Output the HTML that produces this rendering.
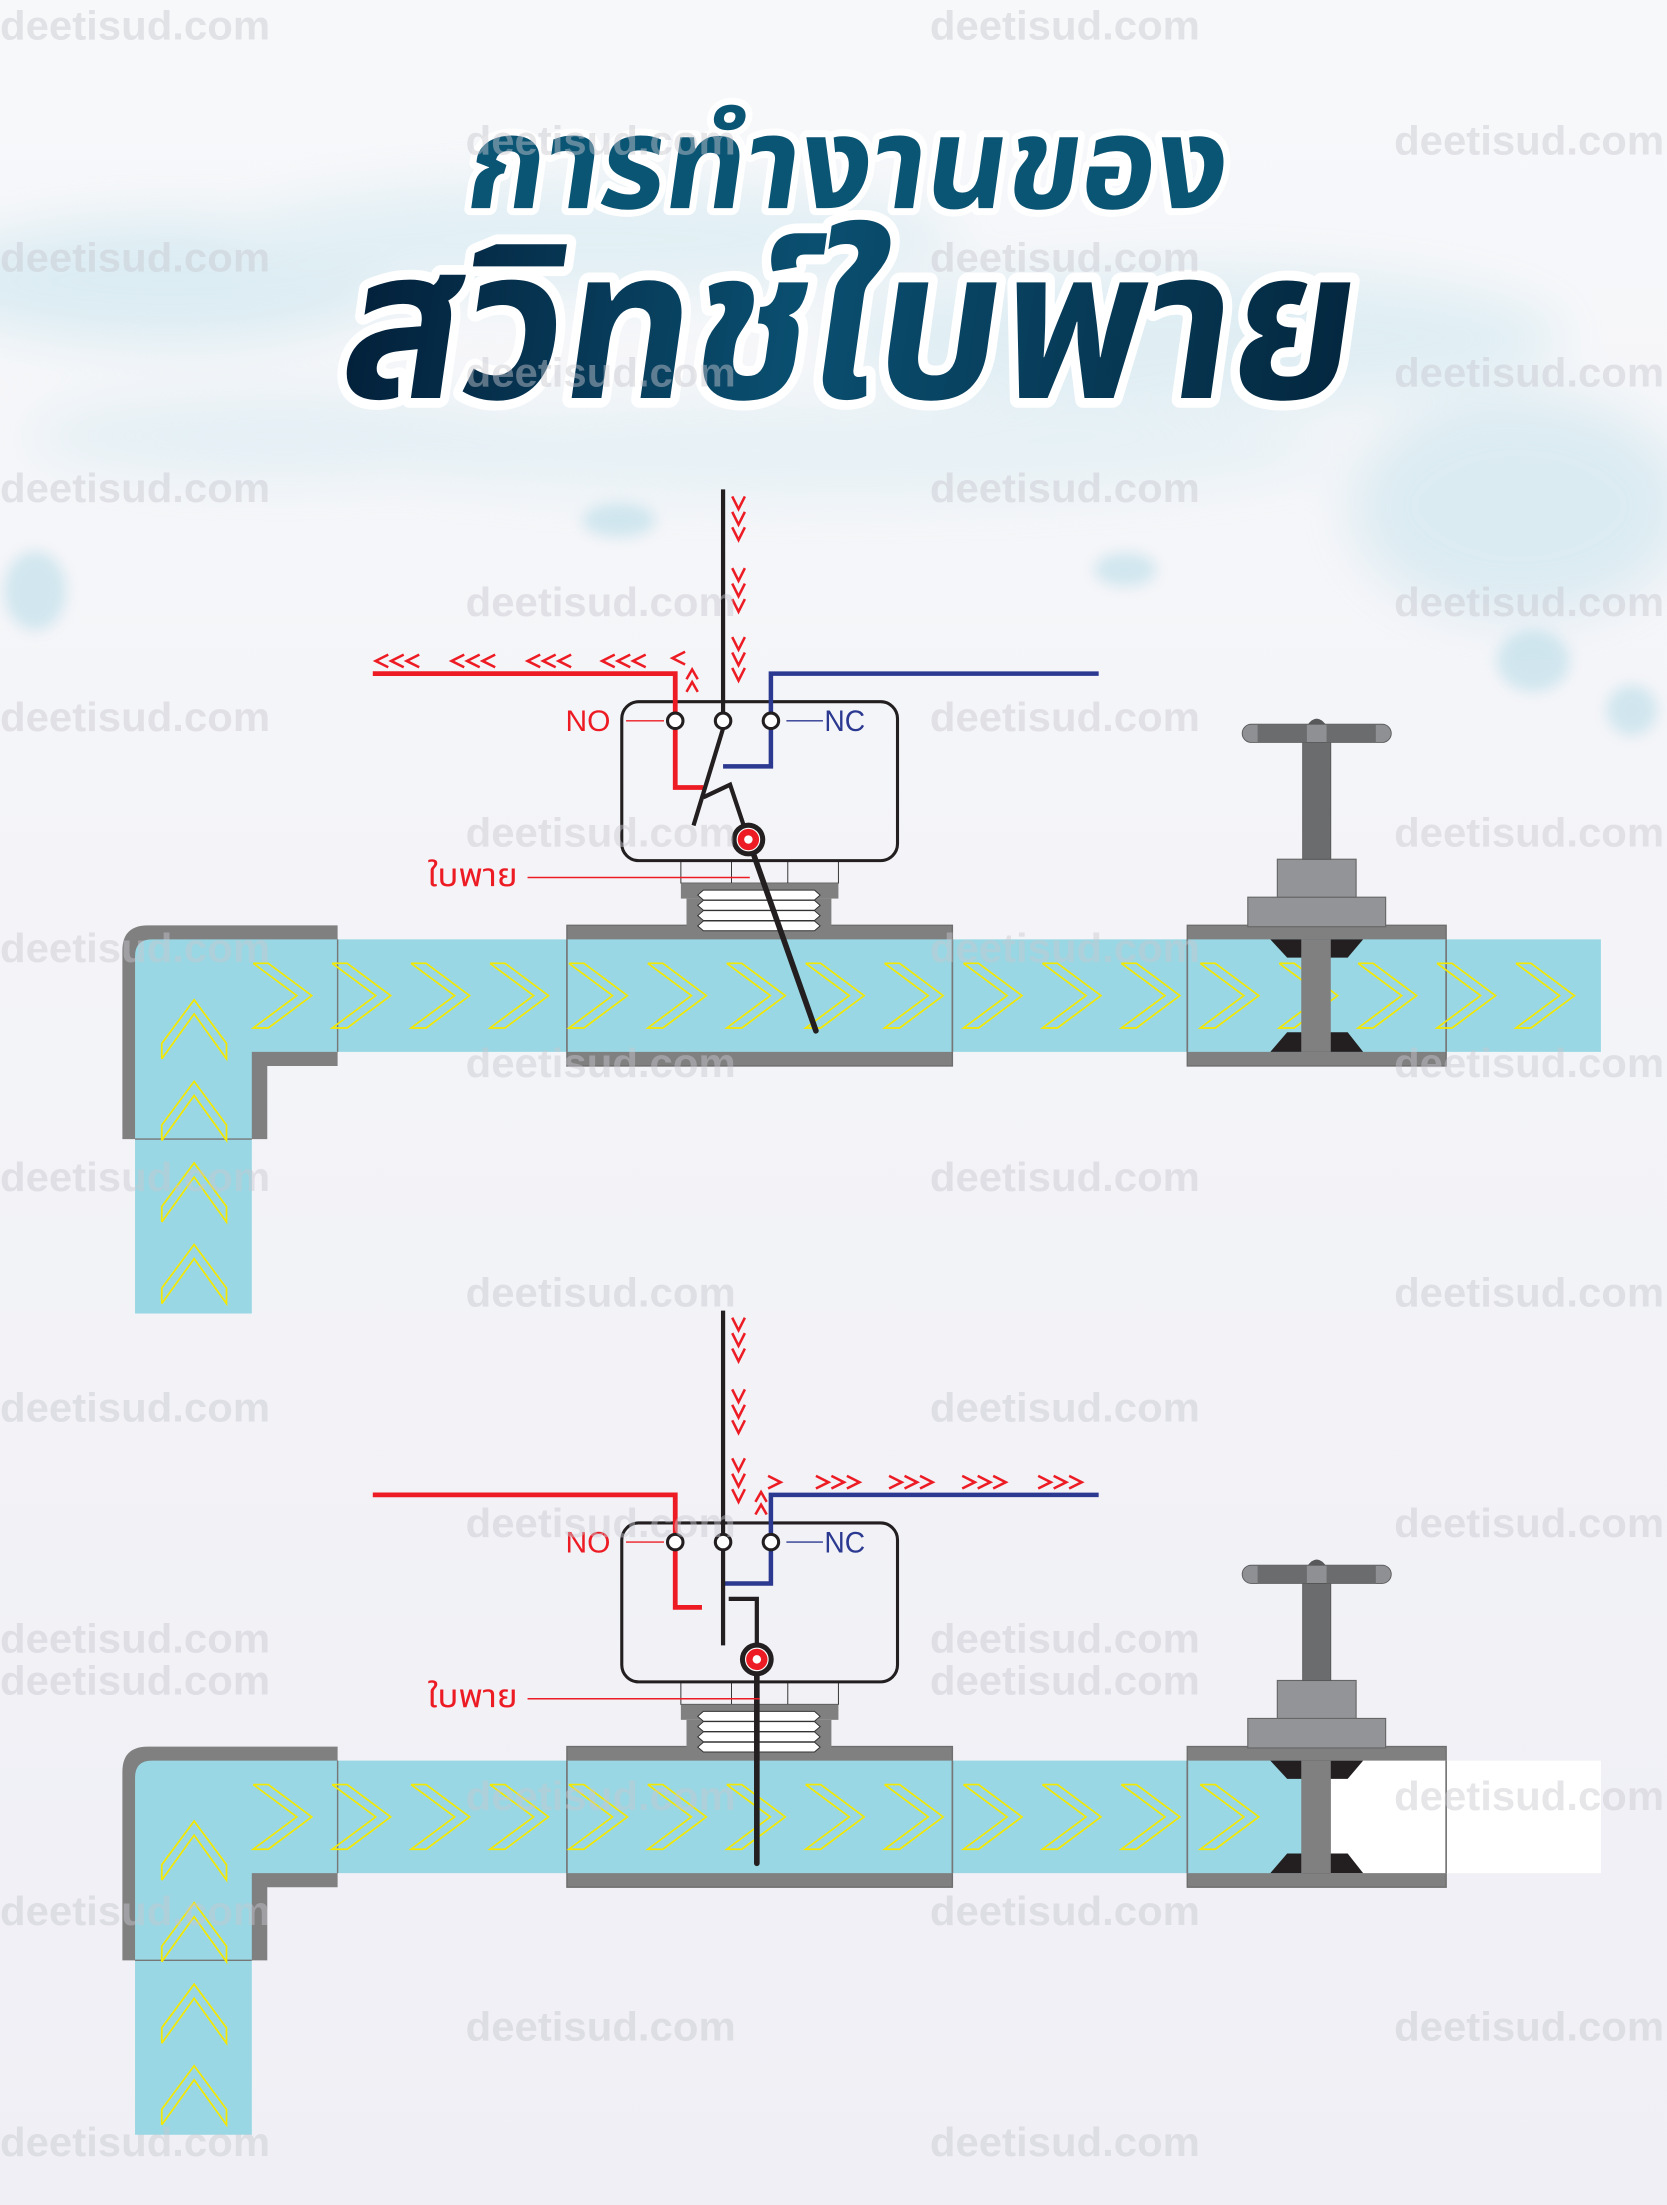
<!DOCTYPE html>
<html><head><meta charset="utf-8">
<style>
html,body{margin:0;padding:0;background:#f4f4f8;}
svg{display:block;}
</style></head>
<body>
<svg id="s" width="1667" height="2205" viewBox="0 0 1185 1568" preserveAspectRatio="none" xmlns="http://www.w3.org/2000/svg">
<defs>
<linearGradient id="bg" x1="0" y1="0" x2="0" y2="1">
<stop offset="0" stop-color="#f7f8fa"/><stop offset="1" stop-color="#efeff5"/>
</linearGradient>
<linearGradient id="t2" x1="0" y1="0" x2="1" y2="0">
<stop offset="0" stop-color="#03203a"/><stop offset="0.45" stop-color="#0a4f70"/><stop offset="1" stop-color="#04273f"/>
</linearGradient>
<filter id="blur" x="-50%" y="-50%" width="200%" height="200%"><feGaussianBlur stdDeviation="18"/></filter>
<filter id="blur2" x="-50%" y="-50%" width="200%" height="200%"><feGaussianBlur stdDeviation="5"/></filter>
</defs>
<rect width="1185" height="1568" fill="url(#bg)"/>
<g filter="url(#blur)" opacity="0.4">
<ellipse cx="120" cy="200" rx="170" ry="45" fill="#b5dde9"/>
<ellipse cx="420" cy="170" rx="260" ry="40" fill="#c4e4ee"/>
<ellipse cx="850" cy="240" rx="260" ry="50" fill="#c0e2ec"/>
<ellipse cx="1080" cy="360" rx="120" ry="80" fill="#b6dce8"/>
<ellipse cx="600" cy="320" rx="350" ry="35" fill="#d2eaf1"/>
<ellipse cx="200" cy="310" rx="180" ry="30" fill="#cbe6ef"/>
</g>
<g filter="url(#blur2)" opacity="0.35" fill="#8fcadd">
<ellipse cx="25" cy="420" rx="22" ry="28"/>
<ellipse cx="440" cy="370" rx="26" ry="12"/>
<ellipse cx="800" cy="405" rx="22" ry="12"/>
<ellipse cx="1090" cy="470" rx="26" ry="22"/>
<ellipse cx="1160" cy="505" rx="18" ry="18"/>
</g>

<g font-family="Liberation Sans, 'Noto Sans Thai', 'Garuda', 'Loma', 'DejaVu Sans', sans-serif" font-weight="bold" stroke="#ffffff" stroke-linejoin="round" paint-order="stroke">
<text x="330" y="148" font-size="92" textLength="540" lengthAdjust="spacingAndGlyphs" fill="#0b5574" stroke-width="10" transform="skewX(-8) translate(20,0)">การทำงานของ</text>
<text x="240" y="283" font-size="150" textLength="720" lengthAdjust="spacingAndGlyphs" fill="url(#t2)" stroke-width="14" transform="skewX(-8) translate(38,0)">สวิทช์ใบพาย</text>
</g>

<g id="d1"></g>
<g id="d2"></g>
<g font-family="Liberation Sans, sans-serif" font-weight="bold" font-size="29" fill="#c8c8d0" opacity="0.45" id="wm"></g>
</svg>
<script>
var NS="http://www.w3.org/2000/svg";
function el(p,tag,a,txt){var e=document.createElementNS(NS,tag);for(var k in a)e.setAttribute(k,a[k]);if(txt)e.textContent=txt;p.appendChild(e);return e;}
var wm=document.getElementById('wm');
var ra=[18,183,347,510,674,837,1001,1165,1359,1523],rb=[100,265,428,592,756,919,1083,1277,1441];
function w(x,y){el(wm,'text',{x:x,y:y+10,textLength:192,lengthAdjust:'spacingAndGlyphs'},'deetisud.com');}
ra.forEach(function(y){w(0,y);w(661,y);});
rb.forEach(function(y){w(331,y);w(991,y);});
w(0,1195);w(661,1195);

var RED="#ed1c24",BLUE="#2b3990",GR="#808080",WAT="#98d7e3",YEL="#f5e800";
function pl(g,pts,st,w,fill){return el(g,'polyline',{points:pts.map(function(p){return p.join(',')}).join(' '),stroke:st,'stroke-width':w,fill:fill||'none','stroke-linejoin':'miter','stroke-linecap':'butt'});}
function rc(g,x,y,w,h,f,extra){var a={x:x,y:y,width:w,height:h,fill:f};for(var k in extra)a[k]=extra[k];return el(g,'rect',a);}
function yr(g,x,cy){pl(g,[[x,cy-23],[x+10.7,cy-23],[x+41.6,cy],[x+10.7,cy+23],[x,cy+23],[x+31,cy],[x,cy-23]],YEL,1.2);}
function yu(g,t){pl(g,[[115,t+42],[115,t+31],[138,t],[161,t+31],[161,t+42],[138,t+10],[115,t+42]],YEL,1.2);}
function cl(g,x,y){pl(g,[[x+9,y-4.5],[x,y],[x+9,y+4.5]],RED,1.8);}
function cr(g,x,y){pl(g,[[x,y-4.5],[x+9,y],[x,y+4.5]],RED,1.8);}
function cd(g,x,y){pl(g,[[x-4.5,y],[x,y+9],[x+4.5,y]],RED,1.8);}
function cu(g,x,y){pl(g,[[x-4,y+7],[x,y],[x+4,y+7]],RED,1.8);}

function draw(g,o,closed){
  el(g,'path',{d:"M87,"+(o+810)+" L87,"+(o+676)+" Q87,"+(o+658)+" 105,"+(o+658)+" L240,"+(o+658)+" L240,"+(o+758)+" L190,"+(o+758)+" L190,"+(o+810)+" Z",fill:GR});
  rc(g,403,o+658,274,100,GR,{stroke:"#6e6e6e","stroke-width":1});
  rc(g,844,o+658,184,100,GR,{stroke:"#6e6e6e","stroke-width":1});
  el(g,'path',{d:"M96,"+(o+934)+" L96,"+(o+680)+" Q96,"+(o+668)+" 108,"+(o+668)+" L240,"+(o+668)+" L240,"+(o+748)+" L179,"+(o+748)+" L179,"+(o+934)+" Z",fill:WAT});
  if(!closed){rc(g,240,o+668,898,80,WAT);}
  else{rc(g,240,o+668,686,80,WAT);rc(g,946,o+668,192,80,"#ffffff");}
  el(g,'line',{x1:96,y1:o+810,x2:179,y2:o+810,stroke:"#777","stroke-width":1});
  el(g,'line',{x1:240,y1:o+668,x2:240,y2:o+748,stroke:"#777","stroke-width":1});
  [403,677,844,1028].forEach(function(x){el(g,'line',{x1:x,y1:o+668,x2:x,y2:o+748,stroke:"#777","stroke-width":1.2});});
  var n=closed?13:17;
  for(var i=0;i<n;i++)yr(g,180+i*56.1,o+708);
  [711,769,827,885].forEach(function(t){yu(g,o+t);});
  el(g,'polygon',{points:[[903,o+668],[969,o+668],[958,o+681],[915,o+681]].join(' '),fill:"#231f20"});
  el(g,'polygon',{points:[[915,o+734],[958,o+734],[969,o+748],[903,o+748]].join(' '),fill:"#231f20"});
  rc(g,925,o+668,21,80,GR);
  var hy=closed?o+515+14:o+515;
  rc(g,887,o+638,98,21,"#939497",{stroke:"#666","stroke-width":0.8});
  rc(g,908,o+611,56,27,"#939497",{stroke:"#666","stroke-width":0.8});
  rc(g,926,hy+13,20,o+611-(hy+13),"#6b6c6e",{stroke:"#555","stroke-width":0.6});
  el(g,'path',{d:"M929,"+(hy+1)+" Q936,"+(hy-9)+" 943,"+(hy+1)+" Z",fill:"#58595b"});
  rc(g,883,hy,106,13,"#8f9093",{rx:6.5,stroke:"#555","stroke-width":0.6});
  rc(g,894,hy,35,13,"#6b6c6e");rc(g,943,hy,35,13,"#6b6c6e");
  rc(g,484,o+612,112,16,"none",{stroke:"#333","stroke-width":0.7});
  el(g,'line',{x1:520,y1:o+612,x2:520,y2:o+628,stroke:"#333","stroke-width":0.7});
  el(g,'line',{x1:560,y1:o+612,x2:560,y2:o+628,stroke:"#333","stroke-width":0.7});
  rc(g,484,o+628,112,11,GR);
  rc(g,488,o+639,103,20,GR);
  for(var k=0;k<4;k++){var ty=o+633+k*7.3;el(g,'polygon',{points:[[500,ty],[579,ty],[583,ty+3.5],[579,ty+7],[500,ty+7],[496,ty+3.5]].join(' '),fill:"#fff",stroke:"#333","stroke-width":0.7});}
  rc(g,442,o+499,196,113,"none",{rx:12,stroke:"#231f20","stroke-width":2.2});
}
function sw1(g){
  pl(g,[[265,479],[480,479],[480,512]],RED,3.4);
  pl(g,[[480,512],[480,560],[500,560]],RED,3.4);
  pl(g,[[781,479],[548,479],[548,512]],BLUE,3.2);
  pl(g,[[548,512],[548,545],[514,545]],BLUE,3.2);
  el(g,'line',{x1:514,y1:348,x2:514,y2:512,stroke:"#231f20","stroke-width":3});
  el(g,'line',{x1:514,y1:518,x2:493,y2:587,stroke:"#231f20","stroke-width":3});
  pl(g,[[500,567],[519,558],[532,597]],"#231f20",3);
  el(g,'line',{x1:532,y1:597,x2:580,y2:733,stroke:"#231f20","stroke-width":4,'stroke-linecap':'round'});
  [480,514,548].forEach(function(x){el(g,'circle',{cx:x,cy:512.6,r:5.5,fill:"#fff",stroke:"#231f20","stroke-width":2.2});});
  el(g,'circle',{cx:532,cy:597,r:12,fill:"#231f20"});
  el(g,'circle',{cx:532,cy:597,r:8,fill:RED,stroke:"#fff","stroke-width":0.8});
  el(g,'circle',{cx:532,cy:597,r:3,fill:"#fff"});
  [267,321,375,428].forEach(function(x){for(var i=0;i<3;i++)cl(g,x+i*11,470);});
  cl(g,478,468);
  cu(g,492,476);cu(g,492,485);
  [353,404,453].forEach(function(y){for(var i=0;i<3;i++)cd(g,525,y+i*11);});
}
function sw2(g){
  pl(g,[[265,1063],[480,1063],[480,1096]],RED,3.4);
  pl(g,[[480,1096],[480,1143],[499,1143]],RED,3.4);
  pl(g,[[781,1063],[548,1063],[548,1096]],BLUE,3.2);
  pl(g,[[548,1096],[548,1126],[514,1126]],BLUE,3.2);
  el(g,'line',{x1:514,y1:932,x2:514,y2:1096,stroke:"#231f20","stroke-width":3});
  el(g,'line',{x1:514,y1:1100,x2:514,y2:1170,stroke:"#231f20","stroke-width":3});
  pl(g,[[518,1137],[538,1137],[538,1180]],"#231f20",3);
  el(g,'line',{x1:538,y1:1180,x2:538,y2:1325,stroke:"#231f20","stroke-width":4,'stroke-linecap':'round'});
  [480,514,548].forEach(function(x){el(g,'circle',{cx:x,cy:1096.6,r:5.5,fill:"#fff",stroke:"#231f20","stroke-width":2.2});});
  el(g,'circle',{cx:538,cy:1180,r:12,fill:"#231f20"});
  el(g,'circle',{cx:538,cy:1180,r:8,fill:RED,stroke:"#fff","stroke-width":0.8});
  el(g,'circle',{cx:538,cy:1180,r:3,fill:"#fff"});
  [937,988,1037].forEach(function(y){for(var i=0;i<3;i++)cd(g,525,y+i*11);});
  cu(g,541,1061);cu(g,541,1070);
  cr(g,546,1054);
  [580,632,684,738].forEach(function(x){for(var i=0;i<3;i++)cr(g,x+i*11,1054);});
}
function labels(g,o){
  el(g,'line',{x1:445,y1:o+512.6,x2:472,y2:o+512.6,stroke:RED,"stroke-width":1});
  el(g,'line',{x1:559,y1:o+512.6,x2:585,y2:o+512.6,stroke:BLUE,"stroke-width":1});
  el(g,'text',{x:402,y:o+520,'font-family':'Liberation Sans, sans-serif','font-size':21,fill:RED,textLength:32,lengthAdjust:'spacingAndGlyphs'},'NO');
  el(g,'text',{x:586,y:o+520,'font-family':'Liberation Sans, sans-serif','font-size':21,fill:BLUE,textLength:29,lengthAdjust:'spacingAndGlyphs'},'NC');
  el(g,'text',{x:304,y:o+630,'font-family':"Liberation Sans, 'Noto Sans Thai', 'Garuda', 'DejaVu Sans', sans-serif",'font-size':23,fill:RED,textLength:64,lengthAdjust:'spacingAndGlyphs'},'ใบพาย');
  el(g,'line',{x1:375,y1:o+624,x2:o?540:533,y2:o+624,stroke:RED,"stroke-width":1});
}
var d1=document.getElementById('d1'),d2=document.getElementById('d2');
draw(d1,0,false);sw1(d1);labels(d1,0);
draw(d2,584,true);sw2(d2);labels(d2,584);
</script>
</body></html>
